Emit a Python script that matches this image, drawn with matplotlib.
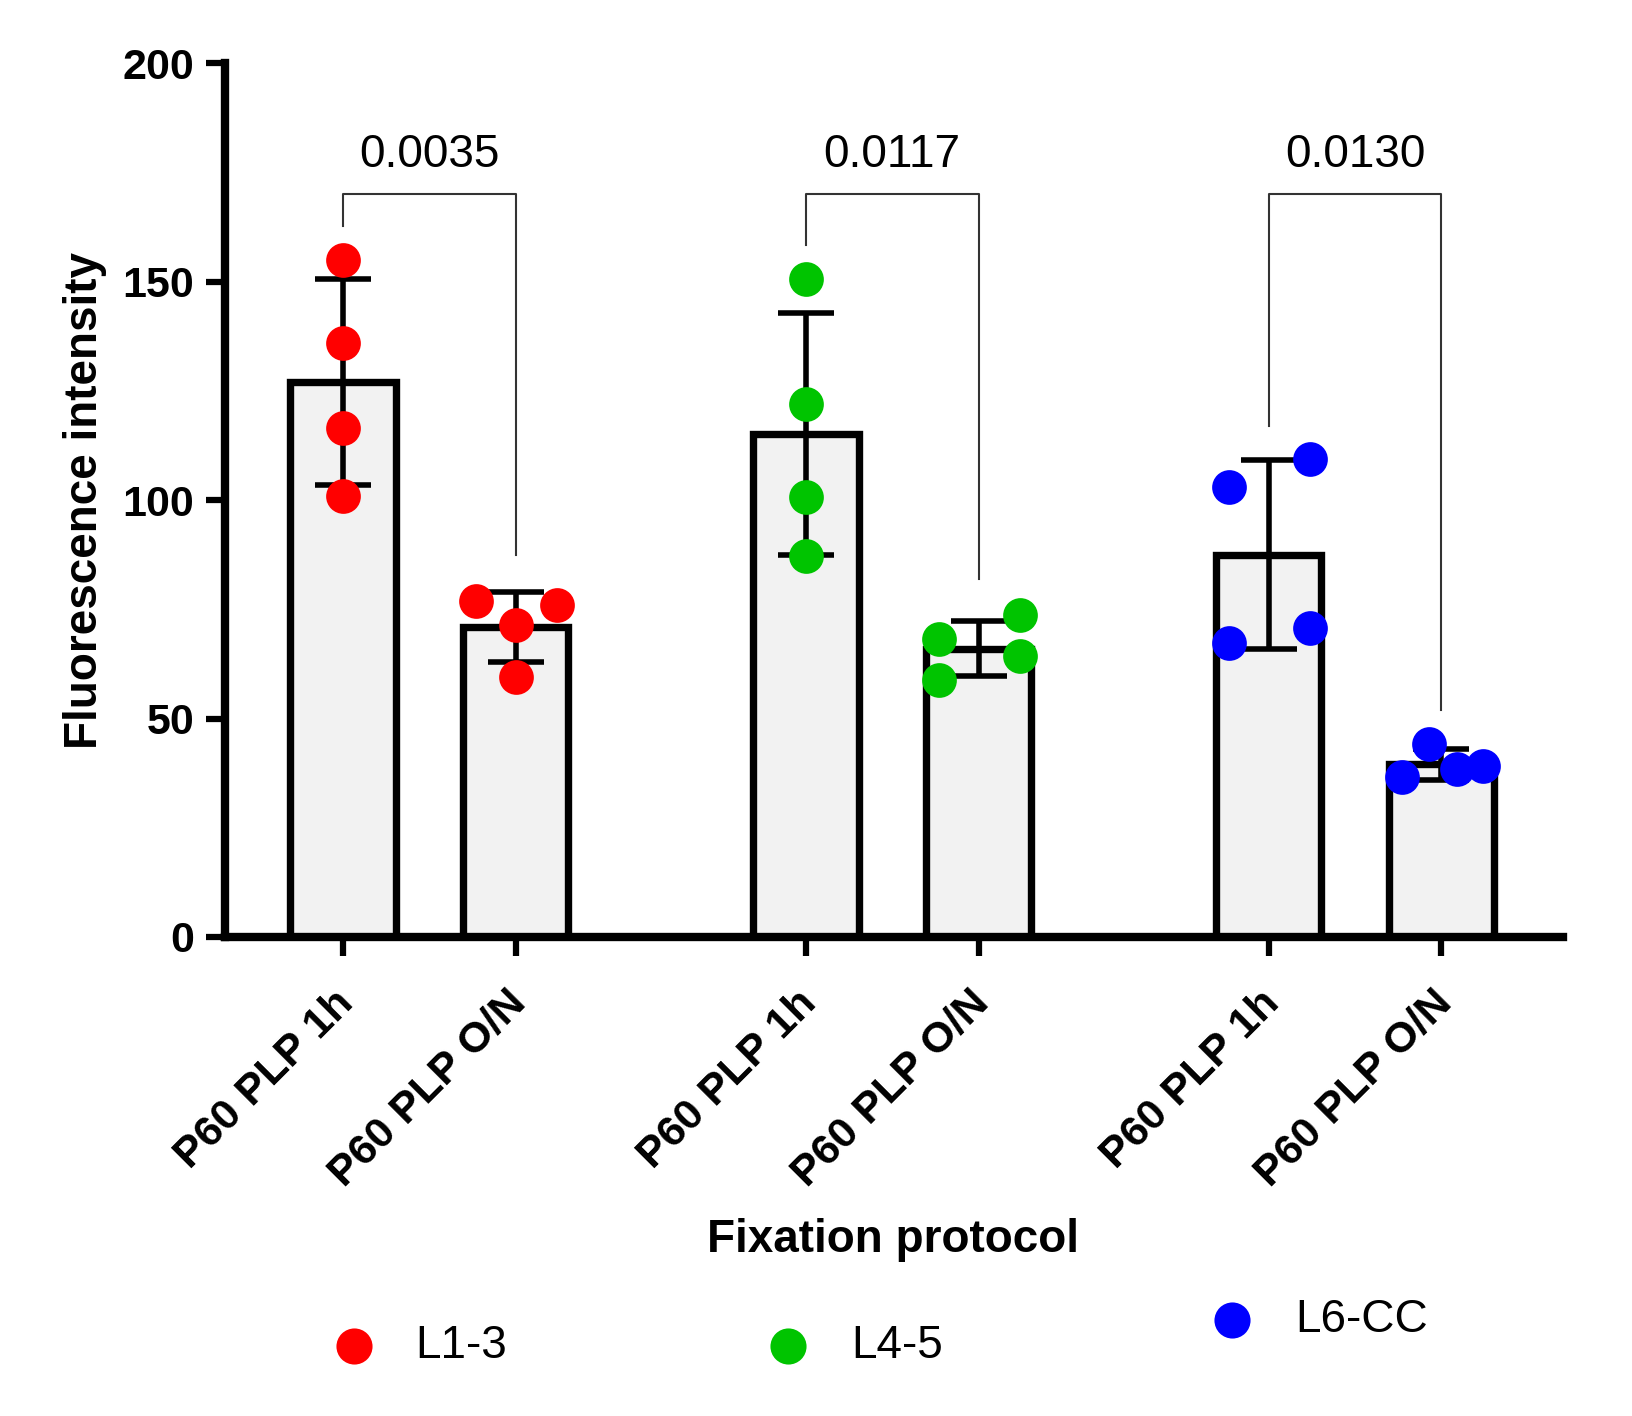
import numpy as np
import matplotlib.pyplot as plt
import matplotlib.transforms as mtransforms
from matplotlib.lines import Line2D

plt.rcParams['font.family'] = ['Liberation Sans', 'DejaVu Sans']

# data
tick_labels = ["P60 PLP 1h", "P60 PLP O/N"] * 3
means = [127, 71, 115, 66, 87.5, 39.5]
sds = [23.5, 8, 27.7, 6.3, 21.7, 3.5]

red_1h = [155, 136, 116.5, 101]
red_on = [77, 76, 71.5, 59.6]
green_1h = [150.5, 122, 100.6, 87.2]
green_on = [68.3, 73.7, 64.2, 58.9]
blue_1h = [103, 109.3, 67.3, 70.8]
blue_on = [44.1, 36.6, 38.4, 39.1]
points = [red_1h, red_on, green_1h, green_on, blue_1h, blue_on]

regions = ["L1-3", "L4-5", "L6-CC"]
p_values = ["0.0035", "0.0117", "0.0130"]

# layout
x = np.array([0, 1, 2.68, 3.68, 5.36, 6.36])
jitter = [[0, 0, 0, 0],
          [-0.23, 0.24, 0, 0],
          [0, 0, 0, 0],
          [-0.23, 0.24, 0.24, -0.23],
          [-0.23, 0.24, -0.23, 0.24],
          [-0.07, -0.23, 0.09, 0.24]]
colors = ["#ff0000", "#00c400", "#0000ff"]
bracket_top = 170
bracket_legs = [(162.6, 87.3), (158.4, 82), (117, 52)]

fig = plt.figure(figsize=(16.33, 14.16), dpi=100)
ax = fig.add_axes([225 / 1633, 1 - 937 / 1416, 1338 / 1633, 874 / 1416])

ax.bar(x, means, width=0.61, color="#f2f2f2", edgecolor="black", linewidth=5.3, zorder=2)
ax.errorbar(x, means, yerr=sds, fmt="none", ecolor="black", elinewidth=4,
            capsize=20.5, capthick=4, zorder=3)

for i in range(6):
    ax.plot(x[i] + np.array(jitter[i]), points[i], "o", ms=25, color=colors[i // 2],
            mec="none", zorder=4, clip_on=False)

# significance brackets
for i in range(3):
    xl, xr = x[2 * i], x[2 * i + 1]
    bl, br = bracket_legs[i]
    ax.plot([xl, xl, xr, xr], [bl, bracket_top, bracket_top, br], color="#333333", lw=1.5, zorder=1)
    ax.text((xl + xr) / 2, bracket_top + 4, p_values[i], ha="center", va="bottom", fontsize=33)

ax.set_xlim(-0.683, 7.064)
ax.set_ylim(0, 200)
ax.set_yticks([0, 50, 100, 150, 200])
ax.set_xticks(x)
ax.tick_params(axis="both", direction="out", length=14, width=4.5)
ax.tick_params(axis="x", pad=12)
ax.tick_params(axis="y", pad=8)
ax.set_xticklabels(tick_labels, rotation=45, ha="right", rotation_mode="anchor",
                   fontsize=31, fontweight="bold")
shift = mtransforms.ScaledTranslation(-7 / 72, -7 / 72, fig.dpi_scale_trans)
for lab in ax.get_xticklabels():
    lab.set_transform(lab.get_transform() + shift)
for lab in ax.get_yticklabels():
    lab.set_fontsize(31)
    lab.set_fontweight("bold")

for s in ["top", "right"]:
    ax.spines[s].set_visible(False)
for s in ["left", "bottom"]:
    ax.spines[s].set_linewidth(6)

ax.set_ylabel("Fluorescence intensity", fontsize=33, fontweight="bold")
ax.yaxis.set_label_coords(-0.105, 0.5)
ax.yaxis.label.set_va("center")
ax.set_xlabel("Fixation protocol", fontsize=33, fontweight="bold")
ax.xaxis.set_label_coords(0.499, -0.347)
ax.xaxis.label.set_va("center")

# legend entries placed as in the original
leg_marker_x = [354 / 1633, 788 / 1633, 1232 / 1633]
leg_text_x = [415 / 1633, 851 / 1633, 1295 / 1633]
leg_y = [1 - 1346 / 1416, 1 - 1346 / 1416, 1 - 1320 / 1416]
for i in range(3):
    fig.add_artist(Line2D([leg_marker_x[i]], [leg_y[i]], transform=fig.transFigure, marker="o",
                          ms=26, color=colors[i], mec="none", ls="none"))
    fig.text(leg_text_x[i], leg_y[i], regions[i], va="center", ha="left", fontsize=33)

fig.savefig("out.png", dpi=100)
